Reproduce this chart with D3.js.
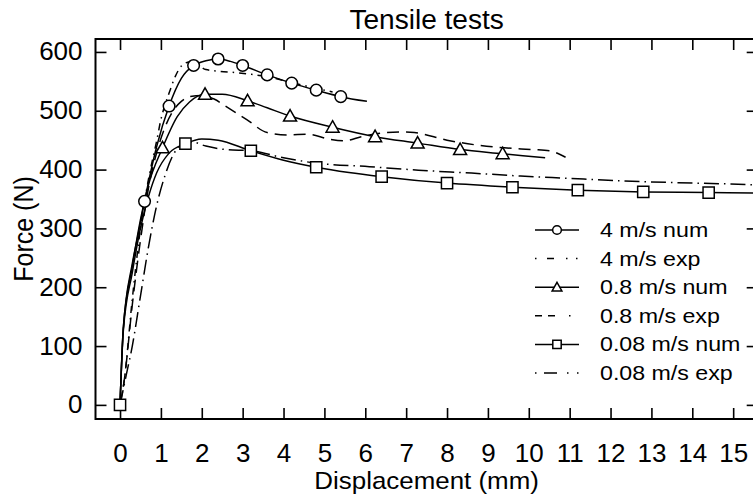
<!DOCTYPE html>
<html><head><meta charset="utf-8">
<script src="https://cdn.jsdelivr.net/npm/d3@7"></script>
<style>body{margin:0;background:#fff}svg{display:block}</style>
</head><body><svg id="c" width="753" height="500"></svg>
<script>
// ---------- data ----------
const xTickValues = [0,1,2,3,4,5,6,7,8,9,10,11,12,13,14,15];
const yTickValues = [0,100,200,300,400,500,600];
const seriesNames = ["4 m/s num","4 m/s exp","0.8 m/s num","0.8 m/s exp","0.08 m/s num","0.08 m/s exp"];

const num4X = [0,0.08,0.3,0.45,0.6,0.9,1.2,1.5,1.8,2.1,2.4,2.7,3.0,3.6,4.2,4.8,5.4,6.04];
const num4Y = [0,130,240,292,346,440,508,555,577,585,588,584,577,561,547,535,524,516];
const num4Markers = [0.6,1.2,1.8,2.4,3.0,3.6,4.2,4.8,5.4];

const exp4X = [0,0.1,0.3,0.5,0.7,0.9,1.0,1.1,1.2,1.35,1.5,1.7,1.9,2.1,2.45,2.8,3.2,3.6,4.2,4.8,5.2];
const exp4Y = [0,40,180,300,385,450,485,510,530,558,576,583,578,570,567,565,562,558,548,538,532];

const num08X = [0,0.08,0.3,0.5,0.7,1.04,1.4,1.7,2.08,2.5,3.12,3.6,4.16,5.2,6.24,7.28,8.32,9.36,10.4];
const num08Y = [0,130,235,315,375,437,490,515,528,528,517,505,491,472,456,445,434,427,420];
const num08Markers = [1.04,2.08,3.12,4.16,5.2,6.24,7.28,8.32,9.36];

const exp08X = [0,0.1,0.3,0.5,0.7,0.9,1.1,1.3,1.5,1.7,2.0,2.3,2.6,3.1,3.6,4.1,4.6,5.1,5.5,5.9,6.4,6.9,7.2,8.0,8.7,9.4,10.1,10.5,10.9];
const exp08Y = [0,40,170,280,370,430,472,500,516,524,526,520,507,485,463,459,460,452,449,456,462,464,463,450,442,437,434,432,421];

const num008X = [0,0.08,0.3,0.5,0.7,0.9,1.2,1.6,2.0,2.4,3.2,4.0,4.8,5.6,6.4,8.0,9.6,11.2,12.8,14.4,15.6];
const num008Y = [0,125,225,300,355,395,428,444,452,450,432,416,404,395,388,377,370,365,362,361,360];
const num008Markers = [0,1.6,3.2,4.8,6.4,8.0,9.6,11.2,12.8,14.4];

const exp008X = [0,0.15,0.3,0.5,0.7,0.9,1.1,1.3,1.5,1.75,2.1,2.6,3.2,4.0,4.8,6.1,7.3,8.6,9.8,11.0,12.2,13.5,14.7,15.6];
const exp008Y = [0,50,100,185,270,340,390,425,442,447,440,434,432,420,411,405,399,394,389,385,381,378,376,374];

// ---------- drawing ----------
const svg = d3.select("#c");
const FONT = "'Liberation Sans', Arial, Helvetica, sans-serif";
const x = d3.scaleLinear().domain([-0.6, 15.6]).range([95.5, 757.7]);
const y = d3.scaleLinear().domain([-24, 622]).range([419, 39]);
const [L, R] = x.range(), [B, T] = y.range();

svg.append("clipPath").attr("id","clip").append("rect")
  .attr("x", L).attr("y", T).attr("width", R - L).attr("height", B - T);

// axes (ticks inward)
const axB = svg.append("g").attr("transform", `translate(0,${B})`)
  .call(d3.axisBottom(x).tickValues(xTickValues).tickSize(-11).tickPadding(25).tickFormat(d3.format("d")));
const axT = svg.append("g").attr("transform", `translate(0,${T})`)
  .call(d3.axisTop(x).tickValues(xTickValues).tickSize(-11).tickFormat(""));
const axL = svg.append("g").attr("transform", `translate(${L},0)`)
  .call(d3.axisLeft(y).tickValues(yTickValues).tickSize(-11).tickPadding(12.5).tickFormat(d3.format("d")));
const axR = svg.append("g").attr("transform", `translate(${R},0)`)
  .call(d3.axisRight(y).tickValues(yTickValues).tickSize(-11).tickFormat(""));
[axB, axT, axL, axR].forEach(g => {
  g.select(".domain").remove();
  g.selectAll(".tick line").attr("stroke", "#000").attr("stroke-width", 1.6);
  g.selectAll("text").attr("font-family", FONT).attr("font-size", 25).attr("fill", "#000")
    .attr("transform", "scale(1.04,1)");
});

// frame
svg.append("rect").attr("x", L).attr("y", T).attr("width", R - L).attr("height", B - T)
  .attr("fill", "none").attr("stroke", "#000").attr("stroke-width", 2);

const plot = svg.append("g").attr("clip-path", "url(#clip)");
const line = d3.line().x(d => x(d[0])).y(d => y(d[1])).curve(d3.curveMonotoneX);
const zip = (a, b) => a.map((v, i) => [v, b[i]]);

const styles = {
  "4 m/s num":   {dash: null, marker: "circle"},
  "4 m/s exp":   {dash: "7,5,1.5,5", legendDash: "1.5,10.5,7,12,1.5,8.5,1.5,10"},
  "0.8 m/s num": {dash: null, marker: "triangle"},
  "0.8 m/s exp": {dash: "12,7", legendDash: "7,6,7,14,1.5,10"},
  "0.08 m/s num":{dash: null, marker: "square"},
  "0.08 m/s exp":{dash: "15,5,1.5,5", legendDash: "1.5,7.5,13,10,1.5,8.5,1.5,10"}
};
const seriesData = {
  "4 m/s num": zip(num4X, num4Y),
  "4 m/s exp": zip(exp4X, exp4Y),
  "0.8 m/s num": zip(num08X, num08Y),
  "0.8 m/s exp": zip(exp08X, exp08Y),
  "0.08 m/s num": zip(num008X, num008Y),
  "0.08 m/s exp": zip(exp008X, exp008Y)
};
const markerX = {"4 m/s num": num4Markers, "0.8 m/s num": num08Markers, "0.08 m/s num": num008Markers};

function markerPath(type, s) {
  if (type === "circle") { const r = 5.8*s; return `M${r},0A${r},${r} 0 1,1 ${-r},0A${r},${r} 0 1,1 ${r},0Z`; }
  if (type === "triangle") { const w = 6.5*s, t = 6.5*s, b = 5*s; return `M0,${-t}L${w},${b}L${-w},${b}Z`; }
  const h = 5.6*s; return `M${-h},${-h}H${h}V${h}H${-h}Z`;
}

seriesNames.forEach(name => {
  plot.append("path").datum(seriesData[name]).attr("d", line)
    .attr("fill", "none").attr("stroke", "#000").attr("stroke-width", 1.5)
    .attr("stroke-dasharray", styles[name].dash);
});
seriesNames.forEach(name => {
  const m = styles[name].marker; if (!m) return;
  const pts = seriesData[name].filter(p => markerX[name].includes(p[0]));
  plot.selectAll(null).data(pts).enter().append("path")
    .attr("transform", d => `translate(${x(d[0])},${y(d[1])})`)
    .attr("d", markerPath(m, 1)).attr("fill", "#fff").attr("stroke", "#000").attr("stroke-width", 1.5);
});

// legend
const leg = svg.append("g");
seriesNames.forEach((name, i) => {
  const cy = 230 + i * 28.6;
  leg.append("line").attr("x1", 535).attr("x2", 579).attr("y1", cy).attr("y2", cy)
    .attr("stroke", "#000").attr("stroke-width", 1.5)
    .attr("stroke-dasharray", styles[name].legendDash || null);
  if (styles[name].marker) {
    leg.append("path").attr("transform", `translate(557,${cy})`)
      .attr("d", markerPath(styles[name].marker, 0.75)).attr("fill", "#fff").attr("stroke", "#000").attr("stroke-width", 1.5);
  }
  leg.append("text").attr("transform", `translate(600,${cy}) scale(1.16,1)`).attr("dy", "0.35em")
    .attr("font-family", FONT).attr("font-size", 20).text(name);
});

// titles
svg.append("text").attr("transform", `translate(${(L + R) / 2},29) scale(1.04,1)`).attr("text-anchor", "middle")
  .attr("font-family", FONT).attr("font-size", 27).text("Tensile tests");
svg.append("text").attr("transform", `translate(${(L + R) / 2},489) scale(1.08,1)`).attr("text-anchor", "middle")
  .attr("font-family", FONT).attr("font-size", 24).text("Displacement (mm)");
svg.append("text").attr("transform", `translate(33,${(T + B) / 2}) rotate(-90) scale(1,1.1)`).attr("text-anchor", "middle")
  .attr("font-family", FONT).attr("font-size", 25).text("Force (N)");
</script></body></html>
